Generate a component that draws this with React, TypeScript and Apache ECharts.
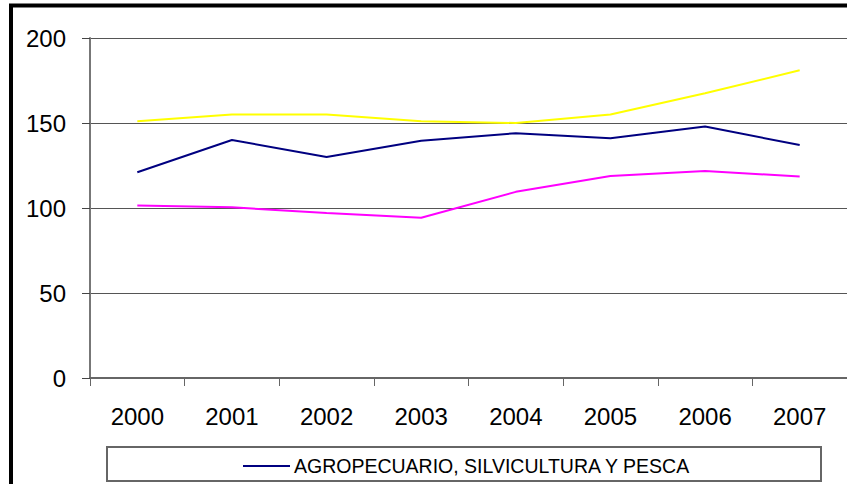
import React, { useEffect, useRef } from "react";
import * as echarts from "echarts";

const years = ["2000", "2001", "2002", "2003", "2004", "2005", "2006", "2007"];
const agropecuario = [121, 140, 130, 139.5, 144, 141, 148, 137];
const serieAmarilla = [151, 155, 155, 151, 150, 155, 167.5, 181];
const serieMagenta = [101.5, 100.4, 97, 94.3, 109.5, 118.8, 121.8, 118.5];
const legendName = "AGROPECUARIO, SILVICULTURA Y PESCA";

export default function App() {
  const ref = useRef<HTMLDivElement>(null);
  useEffect(() => {
    if (!ref.current) return;
    const chart = echarts.init(ref.current, undefined, { renderer: "svg" });
    const font = "'Liberation Sans', Arial, sans-serif";
    chart.setOption({
      animation: false,
      backgroundColor: "#ffffff",
      textStyle: { fontFamily: font },
      grid: { left: 90, top: 38, right: 0, bottom: 106, containLabel: false },
      xAxis: {
        type: "category",
        data: years,
        boundaryGap: true,
        axisLine: { lineStyle: { color: "#666666", width: 2 } },
        axisTick: { show: true, length: 8, alignWithLabel: false, lineStyle: { color: "#666666", width: 1 } },
        axisLabel: { color: "#000000", fontSize: 24, fontFamily: font, margin: 26 },
        splitLine: { show: false },
      },
      yAxis: {
        type: "value",
        min: 0,
        max: 200,
        interval: 50,
        axisLine: { show: true, lineStyle: { color: "#777777", width: 2 } },
        axisTick: { show: true, length: 8, lineStyle: { color: "#444444", width: 1 } },
        axisLabel: { color: "#000000", fontSize: 24, fontFamily: font, margin: 24 },
        splitLine: { show: true, lineStyle: { color: "#555555", width: 1 } },
      },
      legend: {
        data: [{ name: legendName, icon: "rect" }],
        left: 243,
        top: 456,
        padding: 0,
        itemWidth: 47,
        itemHeight: 2,
        itemGap: 10,
        itemStyle: { color: "#000080" },
        textStyle: { color: "#000000", fontSize: 19.5, lineHeight: 19, fontFamily: font, padding: [0, 0, 0, -1] },
      },
      graphic: [
        {
          type: "rect",
          shape: { x: 11, y: 5.5, width: 2000, height: 2000 },
          style: { fill: "none", stroke: "#000000", lineWidth: 4 },
          silent: true,
        },
        {
          type: "rect",
          shape: { x: 107, y: 447, width: 714, height: 34 },
          style: { fill: "none", stroke: "#666666", lineWidth: 2 },
          silent: true,
        },
      ],
      series: [
        {
          name: "serie amarilla",
          type: "line",
          data: serieAmarilla,
          symbol: "none",
          lineStyle: { color: "#FFFF00", width: 2 },
          itemStyle: { color: "#FFFF00" },
          z: 3,
        },
        {
          name: "serie magenta",
          type: "line",
          data: serieMagenta,
          symbol: "none",
          lineStyle: { color: "#FF00FF", width: 2 },
          itemStyle: { color: "#FF00FF" },
          z: 3,
        },
        {
          name: legendName,
          type: "line",
          data: agropecuario,
          symbol: "none",
          lineStyle: { color: "#000080", width: 2 },
          itemStyle: { color: "#000080" },
          z: 4,
        },
      ],
    });
    return () => chart.dispose();
  }, []);
  return (
    <div
      ref={ref}
      style={{ position: "absolute", left: 0, top: 0, width: 847, height: 484 }}
    />
  );
}
